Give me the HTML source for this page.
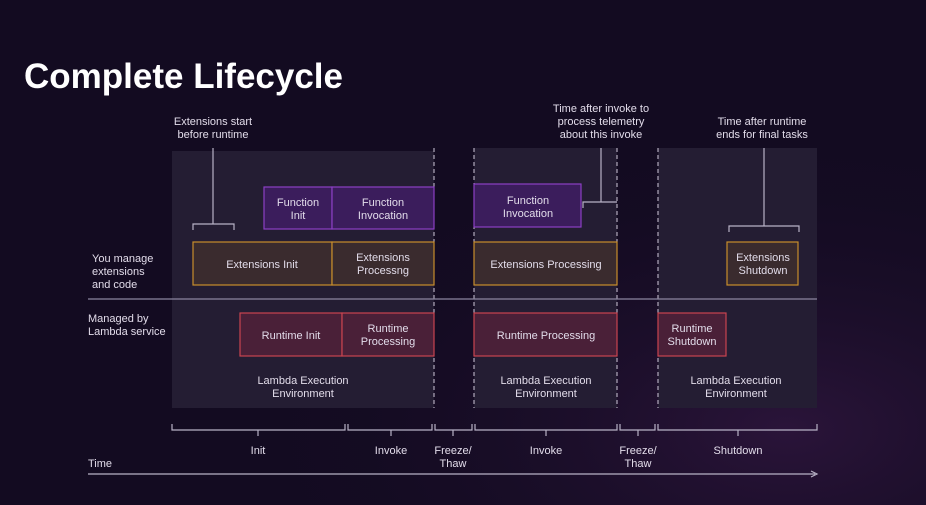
<!DOCTYPE html>
<html><head><meta charset="utf-8"><style>
html,body{margin:0;padding:0;width:926px;height:505px;overflow:hidden;background:#130b21;}
svg{display:block}
text{font-family:"Liberation Sans",sans-serif;fill:#e2dcea;font-size:11px;}
</style></head><body>
<svg width="926" height="505" viewBox="0 0 926 505" xmlns="http://www.w3.org/2000/svg">
<defs>
<radialGradient id="g1" cx="0.85" cy="0.85" r="0.6"><stop offset="0" stop-color="#3a1a4a" stop-opacity="0.6"/><stop offset="1" stop-color="#130b21" stop-opacity="0"/></radialGradient>
</defs>
<rect width="926" height="505" fill="#130b21"/>
<rect width="926" height="505" fill="url(#g1)"/>
<text x="24" y="88" style="font-size:35px;font-weight:bold;fill:#fff">Complete Lifecycle</text>

<rect x="172" y="151" width="262" height="257" fill="#241d33"/>
<rect x="474" y="148" width="143" height="260" fill="#241d33"/>
<rect x="658" y="148" width="159" height="260" fill="#241d33"/>

<g stroke="#cfc8da" stroke-width="1" stroke-dasharray="4,3">
<line x1="434" y1="148" x2="434" y2="408"/><line x1="474" y1="148" x2="474" y2="408"/>
<line x1="617" y1="148" x2="617" y2="408"/><line x1="658" y1="148" x2="658" y2="408"/>
</g>

<line x1="88" y1="299" x2="817" y2="299" stroke="#8c86a0" stroke-width="1.2"/>

<g stroke="#b8b2c6" stroke-width="1.2" fill="none">
<path d="M213 148 V224 M193 230 V224 H234 V230"/>
<path d="M601 148 V202 M583 208 V202 H617"/>
<path d="M764 148 V226 M729 232 V226 H799 V232"/>
</g>

<g fill="#3b1d5c" stroke="#8b3fc4" stroke-width="1.2">
<rect x="264" y="187" width="68" height="42"/><rect x="332" y="187" width="102" height="42"/>
<rect x="474" y="184" width="107" height="43"/>
</g>
<g fill="#3a2b2e" stroke="#c88d2c" stroke-width="1.2">
<rect x="193" y="242" width="139" height="43"/><rect x="332" y="242" width="102" height="43"/>
<rect x="474" y="242" width="143" height="43"/><rect x="727" y="242" width="71" height="43"/>
</g>
<g fill="#4a2038" stroke="#c9444f" stroke-width="1.2">
<rect x="240" y="313" width="102" height="43"/><rect x="342" y="313" width="92" height="43"/>
<rect x="474" y="313" width="143" height="43"/><rect x="658" y="313" width="68" height="43"/>
</g>

<g text-anchor="middle">
<text x="298" y="206">Function</text><text x="298" y="219">Init</text>
<text x="383" y="206">Function</text><text x="383" y="219">Invocation</text>
<text x="528" y="204">Function</text><text x="528" y="217">Invocation</text>
<text x="262" y="268">Extensions Init</text>
<text x="383" y="261">Extensions</text><text x="383" y="274">Processng</text>
<text x="546" y="268">Extensions Processing</text>
<text x="763" y="261">Extensions</text><text x="763" y="274">Shutdown</text>
<text x="291" y="339">Runtime Init</text>
<text x="388" y="332">Runtime</text><text x="388" y="345">Processing</text>
<text x="546" y="339">Runtime Processing</text>
<text x="692" y="332">Runtime</text><text x="692" y="345">Shutdown</text>
<text x="303" y="384">Lambda Execution</text><text x="303" y="397">Environment</text>
<text x="546" y="384">Lambda Execution</text><text x="546" y="397">Environment</text>
<text x="736" y="384">Lambda Execution</text><text x="736" y="397">Environment</text>
<text x="213" y="125">Extensions start</text><text x="213" y="138">before runtime</text>
<text x="601" y="112">Time after invoke to</text><text x="601" y="125">process telemetry</text><text x="601" y="138">about this invoke</text>
<text x="762" y="125">Time after runtime</text><text x="762" y="138">ends for final tasks</text>
<text x="258" y="454">Init</text>
<text x="391" y="454">Invoke</text>
<text x="453" y="454">Freeze/</text><text x="453" y="467">Thaw</text>
<text x="546" y="454">Invoke</text>
<text x="638" y="454">Freeze/</text><text x="638" y="467">Thaw</text>
<text x="738" y="454">Shutdown</text>
</g>

<text x="92" y="262">You manage</text><text x="92" y="275">extensions</text><text x="92" y="288">and code</text>
<text x="88" y="322">Managed by</text><text x="88" y="335">Lambda service</text>
<text x="88" y="467">Time</text>

<g stroke="#b8b2c6" stroke-width="1.2" fill="none">
<path d="M172 424 V430 H345 V424 M258 430 V436"/>
<path d="M348 424 V430 H432 V424 M391 430 V436"/>
<path d="M435 424 V430 H472 V424 M453 430 V436"/>
<path d="M475 424 V430 H617 V424 M546 430 V436"/>
<path d="M620 424 V430 H655 V424 M638 430 V436"/>
<path d="M658 424 V430 H817 V424 M738 430 V436"/>
<line x1="88" y1="474" x2="815" y2="474"/>
<path d="M811 471 L817 474 L811 477"/>
</g>
</svg>
</body></html>
